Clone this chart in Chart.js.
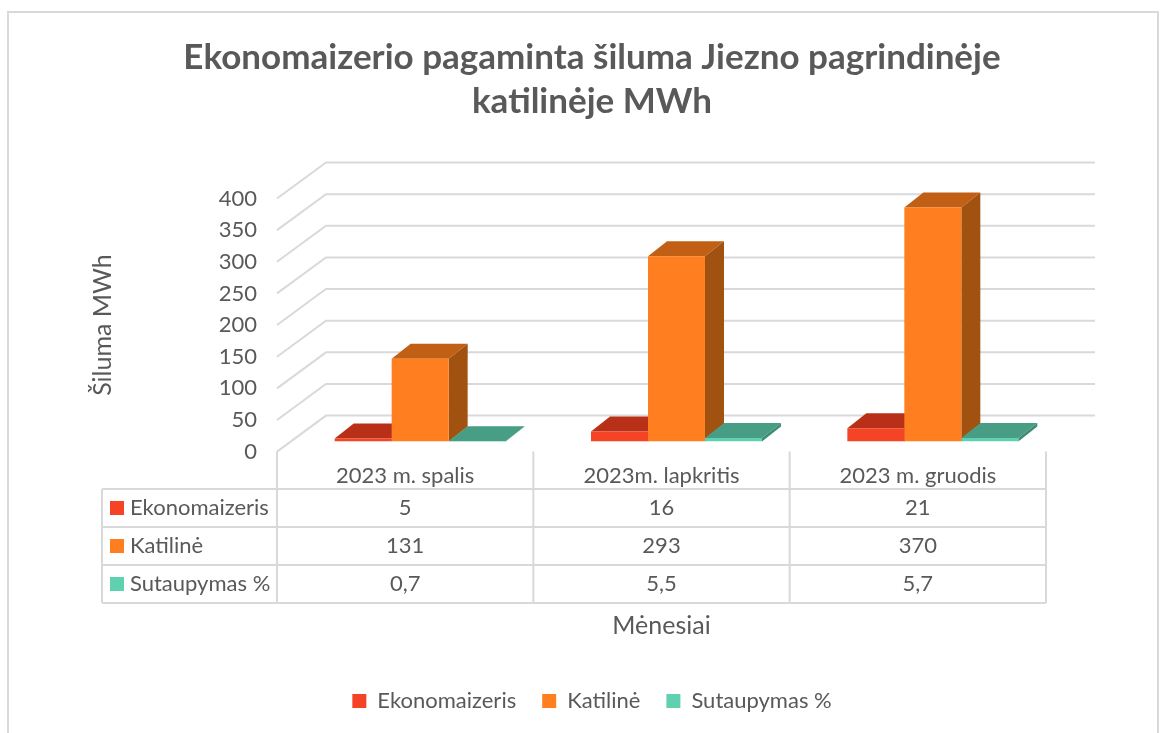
<!DOCTYPE html>
<html>
<head>
<meta charset="utf-8">
<style>
  html, body { margin: 0; padding: 0; background: #fff; }
  #wrap { width: 1163px; height: 733px; position: relative; }
</style>
<script src="https://cdn.jsdelivr.net/npm/chart.js@4.4.0/dist/chart.umd.min.js"></script>
</head>
<body>
<div id="wrap"><canvas id="chart"></canvas></div>
<script>
// data
const months = ["2023 m. spalis", "2023m. lapkritis", "2023 m. gruodis"];
const ekonomaizeris = [5, 16, 21];
const katiline = [131, 293, 370];
const sutaupymas = [0.7, 5.5, 5.7];
const seriesNames = ["Ekonomaizeris", "Katilinė", "Sutaupymas %"];
const yTicks = [0, 50, 100, 150, 200, 250, 300, 350, 400];

// colours
const frontColors = ["#F44325", "#FF7F20", "#5FD1B0"];
const topColors = ["#B93018", "#C16015", "#479E84"];
const sideColors = ["#A32A15", "#A15211", "#3F8C75"];
const lineColor = "#D9D9D9";
const textColor = "#595959";
const fontName = "Lato, 'Open Sans', sans-serif";

// fake 3d offsets
const wallDx = 49, wallDy = 36;
const barDx = 19, barDy = 15;
const floorShiftX = 15, floorShiftY = -10;

function poly(ctx, pts, color) {
    ctx.fillStyle = color;
    ctx.beginPath();
    pts.forEach((p, i) => i ? ctx.lineTo(p[0], p[1]) : ctx.moveTo(p[0], p[1]));
    ctx.closePath();
    ctx.fill();
}

const fake3d = {
    id: "fake3d",
    beforeDraw(chart) {
        // outer frame of the picture, bottom edge is cut off
        const ctx = chart.ctx;
        ctx.save();
        ctx.strokeStyle = lineColor;
        ctx.lineWidth = 2;
        ctx.beginPath();
        ctx.moveTo(8, 733);
        ctx.lineTo(8, 12);
        ctx.lineTo(1158, 12);
        ctx.lineTo(1158, 733);
        ctx.stroke();
        ctx.restore();
    },
    beforeDatasetsDraw(chart) {
        const ctx = chart.ctx, area = chart.chartArea, y = chart.scales.y;
        ctx.save();
        ctx.strokeStyle = lineColor;
        ctx.lineWidth = 2;
        yTicks.forEach(v => {
            const py = y.getPixelForValue(v);
            ctx.beginPath();
            ctx.moveTo(area.left, py);
            ctx.lineTo(area.left + wallDx, py - wallDy);
            ctx.lineTo(area.right + wallDx, py - wallDy);
            ctx.stroke();
        });
        ctx.restore();
        // bars stand a bit inside the floor
        ctx.save();
        ctx.translate(floorShiftX, floorShiftY);
        // tops and sides left to right, the library then paints the fronts over them
        chart.data.datasets.forEach((ds, index) => {
            chart.getDatasetMeta(index).data.forEach(bar => {
                const l = bar.x - bar.width / 2, r = bar.x + bar.width / 2;
                const t = bar.y, b = bar.base;
                poly(ctx, [[l, t], [l + barDx, t - barDy], [r + barDx, t - barDy], [r, t]], topColors[index]);
                poly(ctx, [[r, t], [r + barDx, t - barDy], [r + barDx, b - barDy], [r, b]], sideColors[index]);
            });
        });
    },
    afterDatasetsDraw(chart) {
        chart.ctx.restore();
    },
    afterDraw(chart) {
        // data table under the axis
        const ctx = chart.ctx, area = chart.chartArea, x = chart.scales.x;
        const rows = [ekonomaizeris, katiline, sutaupymas];
        const rowTop = 489, rowH = 38, tableLeft = 102;
        const step = (area.right - area.left) / months.length;
        ctx.save();
        ctx.strokeStyle = lineColor;
        ctx.lineWidth = 2;
        ctx.beginPath();
        for (let i = 0; i <= rows.length; i++) {
            ctx.moveTo(tableLeft, rowTop + i * rowH);
            ctx.lineTo(area.right, rowTop + i * rowH);
        }
        ctx.moveTo(tableLeft, rowTop);
        ctx.lineTo(tableLeft, rowTop + rows.length * rowH);
        for (let i = 0; i <= months.length; i++) {
            ctx.moveTo(area.left + i * step, area.bottom);
            ctx.lineTo(area.left + i * step, rowTop + rows.length * rowH);
        }
        ctx.stroke();

        ctx.font = "22px " + fontName;
        ctx.textBaseline = "middle";
        rows.forEach((row, r) => {
            const cy = rowTop + r * rowH + rowH / 2;
            ctx.fillStyle = frontColors[r];
            ctx.fillRect(110, cy - 7, 14, 14);
            ctx.fillStyle = textColor;
            ctx.textAlign = "left";
            ctx.fillText(seriesNames[r], 130, cy);
            ctx.textAlign = "center";
            row.forEach((v, i) => {
                ctx.fillText(String(v).replace(".", ","), x.getPixelForTick(i), cy);
            });
        });
        ctx.restore();
    }
};

new Chart(document.getElementById("chart"), {
    type: "bar",
    data: {
        labels: months,
        datasets: [
            { label: seriesNames[0], data: ekonomaizeris, backgroundColor: frontColors[0] },
            { label: seriesNames[1], data: katiline, backgroundColor: frontColors[1] },
            { label: seriesNames[2], data: sutaupymas, backgroundColor: frontColors[2] }
        ]
    },
    options: {
        responsive: true,
        maintainAspectRatio: false,
        animation: false,
        datasets: { bar: { barPercentage: 1, categoryPercentage: 0.667 } },
        layout: { padding: { left: 88, right: 67, top: 36, bottom: 11 } },
        plugins: {
            title: {
                display: true,
                text: ["Ekonomaizerio pagaminta šiluma Jiezno pagrindinėje", "katilinėje MWh"],
                color: textColor,
                font: { family: fontName, size: 35, weight: "bold", lineHeight: 1.26 },
                padding: { top: 0, bottom: 74.3 }
            },
            legend: {
                position: "bottom",
                labels: {
                    color: textColor,
                    font: { family: fontName, size: 22 },
                    boxWidth: 14,
                    boxHeight: 14,
                    padding: 26
                }
            },
            tooltip: { enabled: false }
        },
        scales: {
            x: {
                grid: { display: false, drawTicks: false },
                border: { display: false },
                ticks: { color: textColor, font: { family: fontName, size: 22 }, padding: 11, maxRotation: 0 },
                title: {
                    display: true,
                    text: "Mėnesiai",
                    color: textColor,
                    font: { family: fontName, size: 25 },
                    padding: { top: 111, bottom: 23 }
                }
            },
            y: {
                min: 0,
                max: 400,
                afterFit(scale) { scale.width = 189; },
                grid: { display: false, drawTicks: false },
                border: { display: false },
                ticks: { color: textColor, font: { family: fontName, size: 22 }, stepSize: 50, padding: 20 },
                title: {
                    display: true,
                    text: "Šiluma MWh",
                    color: textColor,
                    font: { family: fontName, size: 25 },
                    padding: 0
                }
            },
            // empty axis, keeps room for the back wall on the right
            wall: {
                position: "right",
                afterFit(scale) { scale.width = 50; },
                grid: { display: false, drawTicks: false },
                border: { display: false },
                ticks: { display: false }
            }
        }
    },
    plugins: [fake3d]
});
</script>
</body>
</html>
